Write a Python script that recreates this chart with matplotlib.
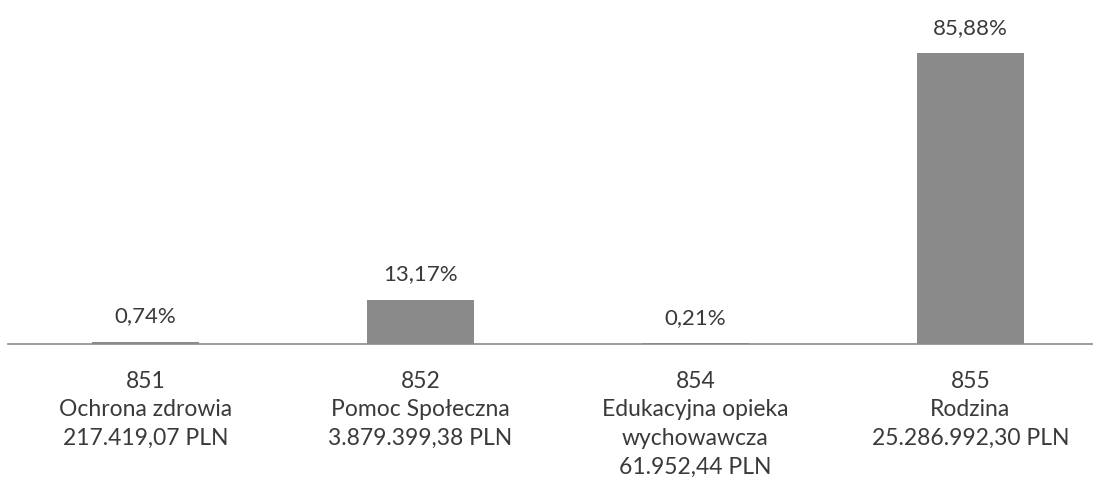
import matplotlib.pyplot as plt

# dzialy budzetu, nazwy, kwoty i udzialy procentowe
codes = ['851', '852', '854', '855']
names = ['Ochrona zdrowia', 'Pomoc Społeczna', 'Edukacyjna opieka\nwychowawcza', 'Rodzina']
amounts = ['217.419,07 PLN', '3.879.399,38 PLN', '61.952,44 PLN', '25.286.992,30 PLN']
shares = [0.74, 13.17, 0.21, 85.88]

plt.rcParams['font.family'] = ['Lato', 'DejaVu Sans']
txt_color = '#3a3a3a'

fig = plt.figure(figsize=(10.93, 4.84), dpi=100)
ax = fig.add_axes([8 / 1093, 0.289, 1100 / 1093, 0.70])

x = range(len(codes))
bars = ax.bar(x, shares, width=0.39, color='#8a8a8a', zorder=2)

ax.set_xlim(-0.5, 3.5)
ax.set_ylim(0, 100)

labels = [f'{c}\n{n}\n{a}' for c, n, a in zip(codes, names, amounts)]
ax.set_xticks(list(x))
ax.set_xticklabels(labels, fontsize=16.5, color=txt_color, linespacing=1.45)
ax.tick_params(axis='x', length=0, pad=19)
ax.set_yticks([])

for s in ['top', 'right', 'left']:
    ax.spines[s].set_visible(False)
ax.spines['bottom'].set_color('#8c8c8c')
ax.spines['bottom'].set_linewidth(1.2)

ax.bar_label(bars, labels=[f'{v:.2f}%'.replace('.', ',') for v in shares],
             padding=11, fontsize=16, color=txt_color)

fig.savefig('out.png', dpi=100)
